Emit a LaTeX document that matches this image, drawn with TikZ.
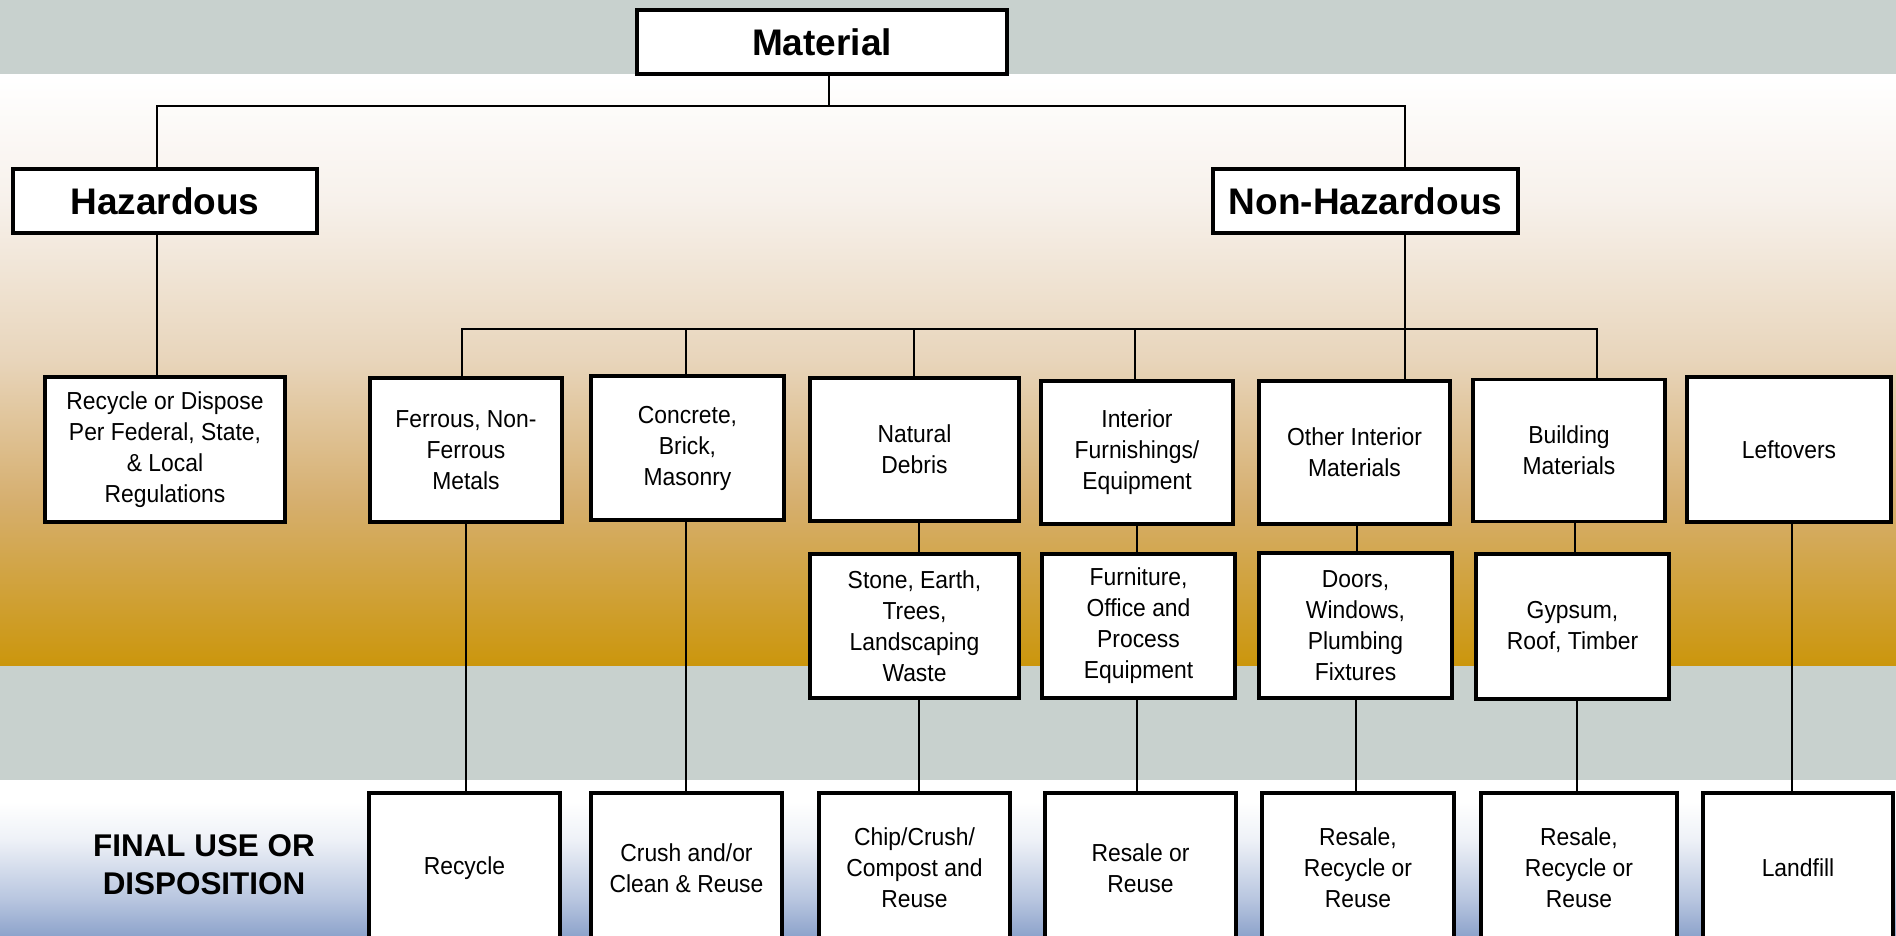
\documentclass[tikz,border=0pt]{standalone}
\usepackage{fontspec}
\setmainfont{Liberation Sans}
\newfontfamily\boxfont[FakeStretch=0.93]{Liberation Sans}
\definecolor{bandgrey}{HTML}{C8D1CE}
\definecolor{gA}{HTML}{CB960C}
\definecolor{gB}{HTML}{D6AF6F}
\definecolor{gC}{HTML}{E8D5BB}
\definecolor{gD}{HTML}{F7F1EB}
\definecolor{bA}{HTML}{8DA3CB}
\definecolor{bB}{HTML}{B7C5DF}
\definecolor{bC}{HTML}{EEF1F7}
\pgfdeclareverticalshading{goldbg}{100bp}{color(0bp)=(gA); color(25bp)=(gA); color(39.04bp)=(gB); color(50.89bp)=(gC); color(64.42bp)=(gD); color(75bp)=(white); color(100bp)=(white)}
\pgfdeclareverticalshading{bluebg}{100bp}{color(0bp)=(bA); color(25bp)=(bA); color(36.54bp)=(bB); color(55.77bp)=(bC); color(68bp)=(white); color(75bp)=(white); color(100bp)=(white)}
\tikzset{
  box/.style={draw, line width=1.6pt, fill=white, align=center, inner sep=0pt,
    font=\boxfont\fontsize{12.3}{15.5}\selectfont},
  headbox/.style={draw, line width=1.6pt, fill=white, align=center, inner sep=0pt,
    font=\bfseries\fontsize{18.5}{22}\selectfont},
  conn/.style={line width=1.4pt, line cap=rect},
}
\begin{document}
\begin{tikzpicture}[x=0.5pt,y=-0.5pt]
\path[use as bounding box] (0,0) rectangle (1896,936);
\clip (0,0) rectangle (1896,936);
% backgrounds
\fill[bandgrey] (0,0) rectangle (1896,75);
\shade[shading=goldbg] (0,75) rectangle (1896,666);
\fill[bandgrey] (0,666) rectangle (1896,780);
\shade[shading=bluebg] (0,780) rectangle (1896,936);

% top level
\node[headbox, minimum width=185pt, minimum height=32pt] (mat) at (822,42) {Material};
\node[headbox, minimum width=152pt, minimum height=32pt] (haz) at (165,201) {Hazardous};
\node[headbox, minimum width=152.5pt, minimum height=32pt] (nh) at (1365.5,201) {Non-Hazardous};

% second level
\node[box, minimum width=120pt, minimum height=72.5pt] (rd) at (165,449.5) {Recycle or Dispose\\Per Federal, State,\\\& Local\\Regulations};
\node[box, minimum width=96pt, minimum height=72pt] (fe) at (466,450) {Ferrous, Non-\\Ferrous\\Metals};
\node[box, minimum width=96.5pt, minimum height=72pt] (co) at (687.5,448) {Concrete,\\Brick,\\Masonry};
\node[box, minimum width=104.5pt, minimum height=71.5pt] (nd) at (914.5,449.5) {Natural\\Debris};
\node[box, minimum width=96pt, minimum height=71.5pt] (ifu) at (1137,452.5) {Interior\\Furnishings/\\Equipment};
\node[box, minimum width=95.5pt, minimum height=71.5pt] (oi) at (1354.5,452.5) {Other Interior\\Materials};
\node[box, minimum width=96pt, minimum height=71pt] (bm) at (1569,450.5) {Building\\Materials};
\node[box, minimum width=102pt, minimum height=72.5pt] (lo) at (1789,449.5) {Leftovers};

% third level
\node[box, minimum width=104.5pt, minimum height=72pt] (sto) at (914.5,626) {Stone, Earth,\\Trees,\\Landscaping\\Waste};
\node[box, minimum width=96.5pt, minimum height=72pt] (fur) at (1138.5,626) {Furniture,\\Office and\\Process\\Equipment};
\node[box, minimum width=96.5pt, minimum height=72.5pt] (doo) at (1355.5,625.5) {Doors,\\Windows,\\Plumbing\\Fixtures};
\node[box, minimum width=96.5pt, minimum height=72.5pt] (gyp) at (1572.5,626.5) {Gypsum,\\Roof, Timber};

% final row
\node[font=\bfseries\fontsize{15.7}{19}\selectfont, align=center, inner sep=0pt] (fin) at (204,865) {FINAL USE OR\\DISPOSITION};
\node[box, minimum width=95.5pt, minimum height=75pt] (rec) at (464.5,868) {Recycle};
\node[box, minimum width=95.5pt, minimum height=75pt] (cru) at (686.5,868) {Crush and/or\\Clean \& Reuse};
\node[box, minimum width=95.5pt, minimum height=75pt] (chi) at (914.5,868) {Chip/Crush/\\Compost and\\Reuse};
\node[box, minimum width=95.5pt, minimum height=75pt] (rr) at (1140.5,868) {Resale or\\Reuse};
\node[box, minimum width=96pt, minimum height=75pt] (rrA) at (1358,868) {Resale,\\Recycle or\\Reuse};
\node[box, minimum width=98pt, minimum height=75pt] (rrB) at (1579,868) {Resale,\\Recycle or\\Reuse};
\node[box, minimum width=95pt, minimum height=75pt] (lan) at (1798,868) {Landfill};

% junction coordinates
\coordinate (m1) at (829,106);
\coordinate (hL) at (157,106);
\coordinate (hR) at (1405,106);
\coordinate (bL) at (462,329);
\coordinate (bR) at (1597,329);
\coordinate (bco) at (686,329);
\coordinate (bnd) at (914,329);
\coordinate (bif) at (1135,329);
\coordinate (xnd) at (919,0);
\coordinate (xif) at (1137,0);
\coordinate (xoi) at (1357,0);
\coordinate (xbm) at (1575,0);
\coordinate (xfe) at (466,0);
\coordinate (xgy) at (1577,0);
\coordinate (xdo) at (1356,0);
\coordinate (xlo) at (1792,0);

% connectors
\draw[conn] (mat.south -| m1) -- (m1);
\draw[conn] (hL) -- (hR);
\draw[conn] (hL) -- (haz.north -| hL);
\draw[conn] (hR) -- (nh.north -| hR);
\draw[conn] (haz.south -| hL) -- (rd.north -| hL);
\draw[conn] (nh.south -| hR) -- (oi.north -| hR);
\draw[conn] (bL) -- (bR);
\draw[conn] (bL) -- (fe.north -| bL);
\draw[conn] (bco) -- (co.north -| bco);
\draw[conn] (bnd) -- (nd.north -| bnd);
\draw[conn] (bif) -- (ifu.north -| bif);
\draw[conn] (bR) -- (bm.north -| bR);

\draw[conn] (nd.south -| xnd) -- (sto.north -| xnd);
\draw[conn] (ifu.south -| xif) -- (fur.north -| xif);
\draw[conn] (oi.south -| xoi) -- (doo.north -| xoi);
\draw[conn] (bm.south -| xbm) -- (gyp.north -| xbm);

\draw[conn] (fe.south -| xfe) -- (rec.north -| xfe);
\draw[conn] (co.south -| bco) -- (cru.north -| bco);
\draw[conn] (sto.south -| xnd) -- (chi.north -| xnd);
\draw[conn] (fur.south -| xif) -- (rr.north -| xif);
\draw[conn] (doo.south -| xdo) -- (rrA.north -| xdo);
\draw[conn] (gyp.south -| xgy) -- (rrB.north -| xgy);
\draw[conn] (lo.south -| xlo) -- (lan.north -| xlo);
\end{tikzpicture}
\end{document}
